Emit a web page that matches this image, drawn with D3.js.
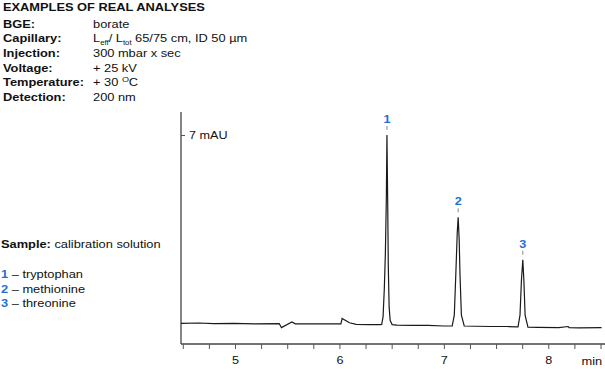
<!DOCTYPE html>
<html lang="en">
<head>
<meta charset="UTF-8" />
<title>Examples of real analyses</title>
<script src="https://d3js.org/d3.v7.min.js"></script>
<style>
  body { margin: 0; background: #fff; }
  svg text { font-family: "Liberation Sans", Arial, sans-serif; fill: #111; }
</style>
</head>
<body>
<svg id="chart" width="605" height="369"></svg>
<script>
// electropherogram trace (time in min, signal in mAU)
var traceTime = [4.483, 4.654, 4.798, 4.99, 5.183, 5.423, 5.445, 5.545, 5.577, 5.808, 6.014, 6.026, 6.096, 6.16, 6.288, 6.385,
  6.405, 6.418, 6.43, 6.44, 6.449, 6.455, 6.462, 6.468, 6.476, 6.486, 6.505,
  6.55, 6.7, 6.85, 7.0, 7.07,
  7.08, 7.1, 7.115, 7.128, 7.137, 7.147, 7.154, 7.168, 7.195,
  7.3, 7.45, 7.6, 7.7,
  7.71, 7.729, 7.743, 7.756, 7.766, 7.778, 7.805,
  7.9, 8.1, 8.19, 8.2, 8.3, 8.51];
var traceMAU = [0, 0.01, -0.01, 0, -0.02, -0.01, -0.16, 0.05, -0.02, -0.02, -0.02, 0.18, 0.02, -0.04, -0.05, -0.05,
  -0.04, 0.25, 1.3, 2.6, 4.58, 7.0, 4.58, 2.1, 0.6, 0.1, -0.05,
  -0.07, -0.08, -0.08, -0.1, -0.1,
  -0.1, 0.3, 1.87, 3.36, 3.94, 3.09, 1.87, 0.3, -0.1,
  -0.11, -0.12, -0.12, -0.13,
  -0.13, 0.3, 1.61, 2.36, 1.61, 0.3, -0.14,
  -0.15, -0.16, -0.12, -0.16, -0.17, -0.16];

// peaks
var peakLabels = ["1", "2", "3"];
var peakTime = [6.455, 7.137, 7.756];
var peakMAU = [7.0, 3.94, 2.36];
var analytes = ["tryptophan", "methionine", "threonine"];

// method conditions
var condLabels = ["BGE:", "Capillary:", "Injection:", "Voltage:", "Temperature:", "Detection:"];
var xTicks = [4.5, 4.75, 5, 5.25, 5.5, 5.75, 6, 6.25, 6.5, 6.75, 7, 7.25, 7.5, 7.75, 8, 8.25, 8.5];
var yTicks = [7];

var blue = "#1f6fd0";
var svg = d3.select("#chart");

var x = d3.scaleLinear().domain([4.483, 8.543]).range([181, 605]);
var y = d3.scaleLinear().domain([-0.77, 7.855]).range([344, 112]);

// text in the source is a bit wider than it is tall
function label(px, py, size) {
  return svg.append("text")
    .attr("transform", "translate(" + px + "," + py + ") scale(1.2,1)")
    .style("font-size", size + "px");
}
var rowY = function(i) { return 27.7 + i * 14.6; };

// header text
label(3, 11, 10.7).style("font-weight", "bold").text("EXAMPLES OF REAL ANALYSES");

condLabels.forEach(function(d, i) {
  label(3, rowY(i), 10.7).style("font-weight", "bold").text(d);
});

label(93, rowY(0), 10.7).text("borate");
var cap = label(93, rowY(1), 10.7);
cap.append("tspan").text("L");
cap.append("tspan").attr("dy", 2.5).style("font-size", "6.5px").text("eff");
cap.append("tspan").attr("dy", -2.5).text("/ L");
cap.append("tspan").attr("dy", 2.5).style("font-size", "6.5px").text("tot");
cap.append("tspan").attr("dy", -2.5).text(" 65/75 cm, ID 50 \u00b5m");
label(93, rowY(2), 10.7).text("300 mbar x sec");
label(93, rowY(3), 10.7).text("+ 25 kV");
var temp = label(93, rowY(4), 10.7);
temp.append("tspan").text("+ 30 ");
temp.append("tspan").attr("dy", -4).style("font-size", "7.5px").text("O");
temp.append("tspan").attr("dy", 4).text("C");
label(93, rowY(5), 10.7).text("200 nm");

// sample legend
var smp = label(1, 248, 10.7);
smp.append("tspan").style("font-weight", "bold").text("Sample:");
smp.append("tspan").text(" calibration solution");

analytes.forEach(function(d, i) {
  var t = label(1, 278 + i * 14.7, 10.7);
  t.append("tspan").style("fill", blue).style("font-weight", "bold").text(peakLabels[i]);
  t.append("tspan").text(" \u2013 " + d);
});

// axes
var xAxis = d3.axisBottom(x).tickValues(xTicks).tickSize(5).tickSizeOuter(0)
  .tickFormat(function(d) { return d % 1 === 0 ? d : ""; });
var gx = svg.append("g").attr("transform", "translate(0,344)").call(xAxis);
gx.select(".domain").attr("d", "M181,0H605").attr("stroke", "#444").attr("stroke-width", 1.3);
gx.selectAll(".tick line").attr("stroke", "#555");
gx.selectAll(".tick text").attr("dy", null).attr("y", 20)
  .attr("transform", "scale(1.15,1)")
  .style("font-size", "11px").style("font-family", "Liberation Sans, Arial, sans-serif").attr("fill", "#111");
label(581.5, 365, 10.7).text("min");

var yAxis = d3.axisRight(y).tickValues(yTicks).tickSize(4).tickSizeOuter(0)
  .tickFormat(function(d) { return d + " mAU"; });
var gy = svg.append("g").attr("transform", "translate(181,0)").call(yAxis);
gy.select(".domain").attr("d", "M0,112V344").attr("stroke", "#444").attr("stroke-width", 1.3);
gy.selectAll(".tick line").attr("stroke", "#555");
gy.selectAll(".tick text").attr("x", 6.7).attr("transform", "scale(1.2,1)")
  .style("font-size", "10.5px").style("font-family", "Liberation Sans, Arial, sans-serif").attr("fill", "#111");

// trace
var pts = traceTime.map(function(t, i) { return [t, traceMAU[i]]; });
var line = d3.line().x(function(d) { return x(d[0]); }).y(function(d) { return y(d[1]); });
svg.append("path").datum(pts).attr("d", line)
  .attr("fill", "none").attr("stroke", "#1a1a1a").attr("stroke-width", 1.2);

// peak labels
var pk = svg.selectAll(".pk").data(peakLabels).enter().append("g").attr("class", "pk")
  .attr("transform", function(d, i) { return "translate(" + x(peakTime[i]) + "," + y(peakMAU[i]) + ")"; });
pk.append("line").attr("x1", 0).attr("x2", 0).attr("y1", -9).attr("y2", -5)
  .attr("stroke", "#888").attr("stroke-width", 1);
pk.append("text").attr("y", -12).attr("text-anchor", "middle")
  .attr("transform", "scale(1.1,1)")
  .style("font-size", "11.5px").style("font-weight", "bold").style("fill", blue)
  .text(function(d) { return d; });
</script>
</body>
</html>
